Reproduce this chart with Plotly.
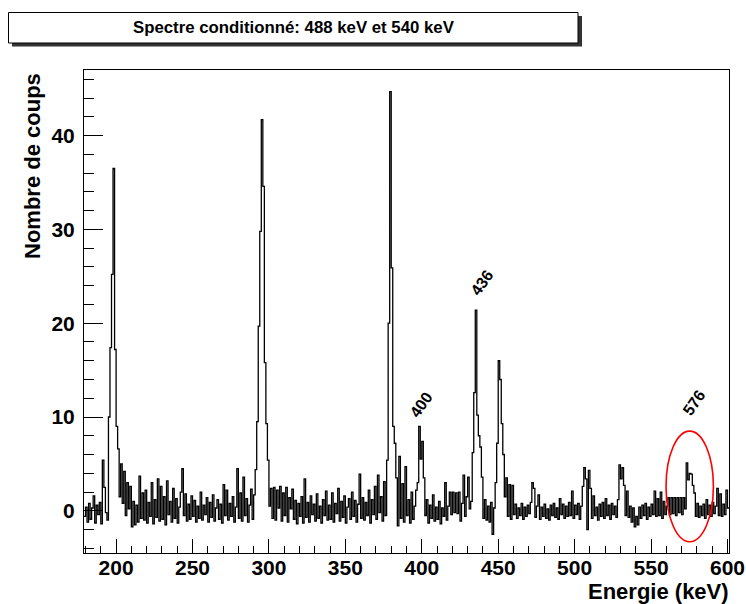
import plotly.graph_objects as go

# ---------------- data (1 keV bins, low edge of first bin = 179 keV) ----------------
bin_start = 179

counts_179_199 = [-0.6, 0.4, -1.2, 0.8, -0.9, 0.3, 1.6, -1.3, 0.6, -0.4,
                  0.9, -1.4, 5.4, 2.5, -0.2, -1.0, 10.0, 17.4, 25.2, 36.5,
                  17.2]
counts_200_249 = [9.0, 6.6, 1.5, 5.0, 0.8, 4.2, -0.5, 3.0, 0.2, 2.6,
                  -1.7, 1.0, -1.5, 0.6, -1.2, 3.7, -0.8, 1.9, -1.0, 2.2,
                  -1.3, 0.9, -0.6, 3.0, -1.4, 1.2, -0.7, 3.4, -1.1, 2.6,
                  -0.9, 1.5, -1.5, 3.2, -0.4, 1.0, -1.2, 2.4, -0.8, 1.3,
                  -1.3, 0.4, 2.0, 4.5, -0.5, 1.8, -1.1, 0.7, -0.9, 1.6]
counts_250_289 = [-0.6, 1.1, -1.2, 0.5, -0.8, 2.0, -1.0, 0.6, -0.4, 1.4,
                  -1.2, 0.9, -0.7, 1.7, -1.1, 0.3, 1.2, -0.9, 0.7, -1.3,
                  2.8, -0.5, 2.2, -1.0, 0.8, -0.6, 1.5, -1.2, 0.4, 4.5,
                  -0.8, 1.9, -1.1, 3.6, -0.5, 1.3, -1.2, 0.6, 2.3, -0.9]
counts_290_299 = [1.7, 4.4, 9.5, 19.7, 29.8, 41.7, 34.6, 15.8, 9.3, 5.4]
counts_300_377 = [0.5, 2.4, -0.8, 2.5, -1.0, 2.2, 0.3, 2.6, -1.1, 1.9,
                  -0.5, 2.5, -1.2, 1.4, 0.2, 2.3, -0.9, 1.1, -1.4, 0.8,
                  -0.6, 1.5, -1.3, 3.4, -0.7, 0.9, -1.2, 1.6, -0.4, 0.7,
                  -1.1, 1.8, -0.8, 0.5, -1.3, 1.2, -0.5, 2.1, -1.0, 0.6,
                  -0.9, 1.9, -1.2, 0.8, -0.3, 2.4, -1.1, 1.0, -0.7, 1.6,
                  -1.3, 0.4, 1.3, -0.9, 2.0, -0.6, 1.1, -1.2, 0.7, 3.9,
                  -0.8, 1.4, -1.0, 0.9, -0.5, 2.2, -1.3, 1.2, -0.4, 2.6,
                  -0.9, 3.8, -0.2, 1.5, -1.1, 3.1, -0.5, 5.4]
counts_378_401 = [20.0, 44.7, 25.9, 9.0, 7.2, 3.5, -1.6, 5.8, -0.8, 2.9,
                  -1.2, 4.7, -0.5, 1.2, -1.3, 2.0, -0.9, 0.5, 2.2, 3.0,
                  9.0, 5.5, 7.4, 3.5]
counts_402_431 = [-0.5, 1.2, -1.3, 0.6, -0.8, 1.7, -1.1, 0.4, -0.9, 1.0,
                  -1.4, 0.3, -0.6, 3.0, -1.0, 0.5, 2.0, -0.4, 2.0, -0.2,
                  1.9, -0.3, 2.0, -1.1, 0.8, 3.8, -0.6, 1.5, 3.6, 0.2]
counts_432_459 = [1.0, 6.2, 12.6, 21.4, 10.2, 8.0, 6.8, 3.6, -0.8, 1.2,
                  -1.0, 0.5, -1.2, 0.9, -2.5, 0.3, 3.0, 7.2, 16.0, 14.0,
                  9.3, 6.0, 1.5, 3.5, -0.6, 2.8, -0.9, 2.7]
counts_460_509 = [-0.4, 0.7, -0.8, 0.3, -0.5, 0.8, -0.9, 0.4, -0.6, 0.6,
                  -0.3, 0.9, 3.0, 2.4, -0.7, 0.5, 1.7, -0.9, 0.4, -0.6,
                  0.7, -0.8, 0.2, -1.0, 0.6, -0.5, 0.8, -0.7, 0.3, -0.9,
                  1.3, -0.4, 0.7, -0.8, 0.5, -0.6, 0.9, -0.5, 2.1, -0.8,
                  0.6, -0.4, 0.8, -0.9, 0.5, 2.6, 4.6, 3.4, -2.0, 4.3]
counts_510_559 = [2.4, -0.8, 1.6, -0.5, 0.4, -1.0, 0.7, -0.6, 0.9, -0.8,
                  1.3, -0.5, 0.6, -0.9, 0.8, -0.4, 0.5, -0.7, 1.2, 4.9,
                  3.4, 4.6, 2.7, -0.5, 2.1, -0.7, 0.5, -1.2, 0.3, -1.7,
                  -0.6, -1.5, 0.4, -0.8, 0.6, -0.5, 0.8, -0.9, 0.4, -0.6,
                  0.7, -0.4, 2.1, -0.6, 1.3, -0.5, 2.0, -0.8, 1.0, -0.4]
counts_560_600 = [0.5, 1.4, -0.4, 1.4, -0.3, 1.4, -0.5, 1.4, -0.2, 1.4,
                  -0.4, 1.4, 0.2, 5.1, 3.3, 4.0, 3.9, 2.7, 1.9, -0.6,
                  0.8, -0.7, 0.5, -0.5, 0.7, -0.8, 1.2, -0.4, 0.6, -0.6,
                  0.9, -0.3, 0.5, 2.4, -0.5, 1.8, -0.6, 0.7, -0.4, 2.2, 0.3]

peak_labels = ["400", "436", "576"]
peak_label_x = [399.7, 439.6, 578.4]
peak_label_y = [11.3, 24.3, 11.5]

title_text = "Spectre conditionné: 488 keV et 540 keV"
x_title = "Energie (keV)"
y_title = "Nombre de coups"

counts = (counts_179_199 + counts_200_249 + counts_250_289 + counts_290_299 +
          counts_300_377 + counts_378_401 + counts_402_431 + counts_432_459 +
          counts_460_509 + counts_510_559 + counts_560_600)
edges = [bin_start + i for i in range(len(counts) + 1)]
y_step = counts + [counts[-1]]

# ---------------- layout helpers (pixel -> paper) ----------------
W, H = 746, 604
L, R, T, B = 84, 17, 70, 51
PW, PH = W - L - R, H - T - B


def px(xp):
    return (xp - L) / PW


def py(yp):
    return (H - B - yp) / PH


FONT = "Liberation Sans, Arial, Helvetica, sans-serif"

fig = go.Figure()
fig.add_trace(go.Scatter(
    x=edges, y=y_step, mode="lines",
    line=dict(color="black", width=1.3, shape="hv"),
    hoverinfo="skip", showlegend=False, cliponaxis=True))

shapes = [
    # title pave shadow + box
    dict(type="rect", xref="paper", yref="paper",
         x0=px(12), x1=px(582), y0=py(46.5), y1=py(16),
         fillcolor="#333333", line=dict(width=0), layer="above"),
    dict(type="rect", xref="paper", yref="paper",
         x0=px(8.5), x1=px(578), y0=py(43), y1=py(12.5),
         fillcolor="white", line=dict(color="black", width=1), layer="above"),
    # red ellipse around 576 keV
    dict(type="circle", xref="x", yref="y",
         x0=559.8, x1=590.8, y0=-3.3, y1=8.5,
         line=dict(color="red", width=1.6)),
]

annotations = [
    dict(text="<b>%s</b>" % title_text, xref="paper", yref="paper",
         x=px(294), y=py(27.5), xanchor="center", yanchor="middle",
         showarrow=False, font=dict(family=FONT, size=16.8, color="black")),
    dict(text="<b>%s</b>" % y_title, xref="paper", yref="paper",
         x=px(32), y=py(166), xanchor="center", yanchor="middle",
         textangle=-90, showarrow=False,
         font=dict(family=FONT, size=22, color="black")),
    dict(text="<b>%s</b>" % x_title, xref="paper", yref="paper",
         x=px(731), y=py(591), xanchor="right", yanchor="middle",
         showarrow=False, font=dict(family=FONT, size=22, color="black")),
]
for lab, lx, ly in zip(peak_labels, peak_label_x, peak_label_y):
    annotations.append(dict(text="<b>%s</b>" % lab, x=lx, y=ly, xref="x", yref="y",
                            textangle=-55, showarrow=False,
                            xanchor="center", yanchor="middle",
                            font=dict(family=FONT, size=16, color="black")))

fig.update_layout(
    width=W, height=H, autosize=False,
    margin=dict(l=L, r=R, t=T, b=B, pad=0, autoexpand=False),
    paper_bgcolor="white", plot_bgcolor="white",
    shapes=shapes, annotations=annotations,
    xaxis=dict(range=[179, 601], tick0=0, dtick=50, automargin=False,
               ticks="inside", ticklen=14, tickwidth=1, tickcolor="black",
               showline=True, linecolor="black", linewidth=1, mirror=True,
               showgrid=False, zeroline=False, ticklabelstandoff=-4,
               tickfont=dict(family=FONT, size=21, color="black", weight="bold"),
               minor=dict(ticks="inside", ticklen=7, dtick=10, tick0=0,
                          tickcolor="black", showgrid=False)),
    yaxis=dict(range=[-4.5, 47], tick0=0, dtick=10, automargin=False,
               ticks="inside", ticklen=19, tickwidth=1, tickcolor="black",
               showline=True, linecolor="black", linewidth=1, mirror=True,
               showgrid=False, zeroline=False, ticklabelstandoff=4,
               tickfont=dict(family=FONT, size=21, color="black", weight="bold"),
               minor=dict(ticks="inside", ticklen=10, dtick=2, tick0=0,
                          tickcolor="black", showgrid=False)),
)

fig.write_html("out.html",
               config={"displayModeBar": False, "responsive": False},
               post_script="var gd=document.getElementById('{plot_id}');"
                           "gd.style.position='absolute';"
                           "gd.style.left='0px';gd.style.top='0px';")
